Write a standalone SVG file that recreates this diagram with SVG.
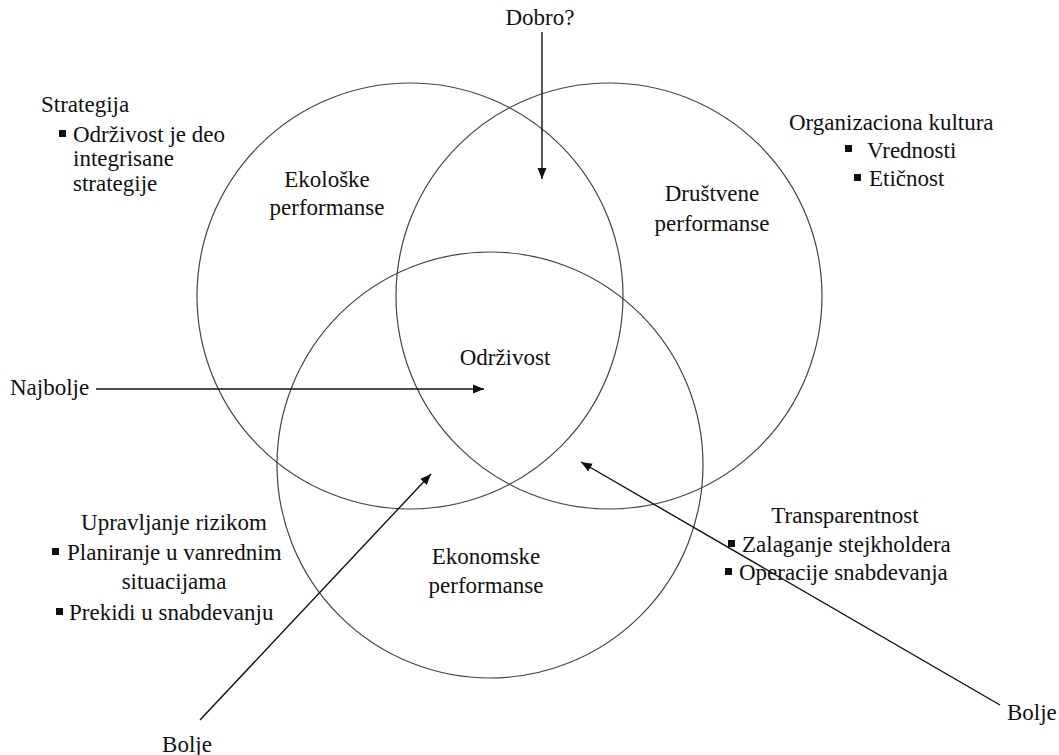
<svg xmlns="http://www.w3.org/2000/svg" width="1059" height="755" viewBox="0 0 1059 755">
<style>
text{font-family:"Liberation Serif","Times New Roman",serif;font-size:23px;fill:#111}
.c{fill:none;stroke:#444;stroke-width:1.2}
.m{text-anchor:middle}
.b{fill:#111}
.ar{stroke:#111;stroke-width:1.4;fill:none;marker-end:url(#ah)}
</style>
<defs>
<marker id="ah" markerUnits="userSpaceOnUse" markerWidth="12" markerHeight="12" viewBox="0 0 12 12" refX="11" refY="6" orient="auto">
<path d="M0,1.5 L11,6 L0,10.5 Z" fill="#111"/>
</marker>
</defs>
<rect width="1059" height="755" fill="#fff"/>
<g id="ekoloske">
<circle class="c" cx="410" cy="296" r="213"/>
<text class="m" x="327" y="187">Ekološke</text>
<text class="m" x="327" y="215">performanse</text>
</g>
<g id="drustvene">
<circle class="c" cx="609" cy="296" r="213"/>
<text class="m" x="712" y="201">Društvene</text>
<text class="m" x="712" y="231">performanse</text>
</g>
<g id="ekonomske">
<circle class="c" cx="490" cy="465" r="213"/>
<text class="m" x="486" y="564">Ekonomske</text>
<text class="m" x="486" y="593">performanse</text>
</g>
<g id="odrzivost">
<text class="m" x="505" y="365">Održivost</text>
</g>
<g id="strategija">
<text x="41" y="112">Strategija</text>
<rect class="b" x="59" y="130" width="7" height="7"/>
<text x="73" y="142">Održivost je deo</text>
<text x="73" y="166">integrisane</text>
<text x="73" y="191">strategije</text>
</g>
<g id="kultura">
<text x="789" y="130">Organizaciona kultura</text>
<rect class="b" x="845" y="145" width="7" height="7"/>
<text x="867" y="158">Vrednosti</text>
<rect class="b" x="854" y="174" width="7" height="7"/>
<text x="869" y="186">Etičnost</text>
</g>
<g id="rizik">
<text class="m" x="174" y="530">Upravljanje rizikom</text>
<rect class="b" x="52" y="548" width="7" height="7"/>
<text x="67" y="560">Planiranje u vanrednim</text>
<text class="m" x="174" y="589">situacijama</text>
<rect class="b" x="56" y="608" width="7" height="7"/>
<text x="69" y="620">Prekidi u snabdevanju</text>
</g>
<g id="transparentnost">
<text class="m" x="845" y="523">Transparentnost</text>
<rect class="b" x="728" y="540" width="7" height="7"/>
<text x="742" y="552">Zalaganje stejkholdera</text>
<rect class="b" x="725" y="568" width="7" height="7"/>
<text x="739" y="580">Operacije snabdevanja</text>
</g>
<g id="dobro"><text class="m" x="540" y="25">Dobro?</text></g>
<g id="najbolje"><text x="10" y="395">Najbolje</text></g>
<g id="bolje-levo"><text class="m" x="187" y="752">Bolje</text></g>
<g id="bolje-desno"><text x="1007" y="720">Bolje</text></g>
<g id="connectors">
<line class="ar" x1="542" y1="32" x2="542" y2="179"/>
<line class="ar" x1="96" y1="389" x2="484" y2="389"/>
<line class="ar" x1="200" y1="720" x2="431" y2="474"/>
<line class="ar" x1="1000" y1="705" x2="581" y2="462"/>
</g>
</svg>
